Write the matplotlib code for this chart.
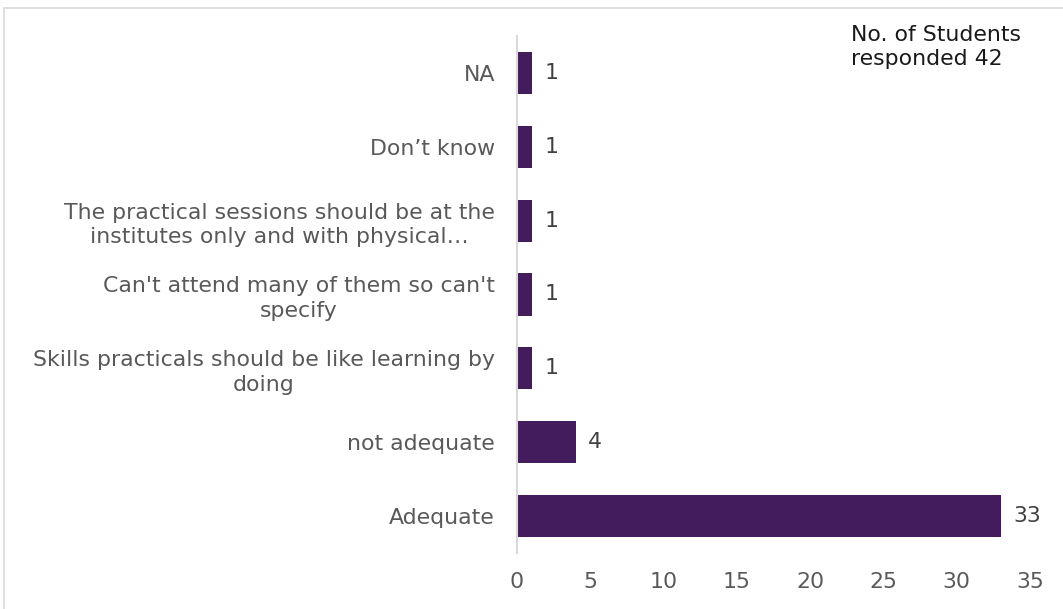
import matplotlib.pyplot as plt
from matplotlib.patches import Rectangle

categories = [
    "Adequate",
    "not adequate",
    "Skills practicals should be like learning by\ndoing",
    "Can't attend many of them so can't\nspecify",
    "The practical sessions should be at the\ninstitutes only and with physical\u2026",
    "Don\u2019t know",
    "NA",
]
counts = [33, 4, 1, 1, 1, 1, 1]
x_ticks = [0, 5, 10, 15, 20, 25, 30, 35]
note = "No. of Students\nresponded 42"

bar_color = "#421c5c"
text_gray = "#595959"
fs = 15.8

plt.rcParams["font.family"] = ["DejaVu Sans"]

fig = plt.figure(figsize=(10.63, 6.09), dpi=100)
fig.patch.set_facecolor("white")

# chart frame
fig.add_artist(Rectangle((4 / 1063, -0.05), 1.2, 1 - 8 / 609 + 0.05,
                         transform=fig.transFigure, fill=False,
                         edgecolor="#d9d9d9", linewidth=1.2))

ax = fig.add_axes([517 / 1063, 1 - 553 / 609, (1030 - 517) / 1063, (553 - 36) / 609])
y = list(range(len(categories)))
ax.barh(y, counts, height=0.57, color=bar_color)
ax.set_xlim(0, 35)
ax.set_ylim(-0.5, len(categories) - 0.5)
ax.set_yticks(y)
ax.set_yticklabels(categories, fontsize=fs, color=text_gray, ha="right",
                   multialignment="center", linespacing=1.3)
ax.set_xticks(x_ticks)
ax.set_xticklabels([str(t) for t in x_ticks], fontsize=fs, color=text_gray)
ax.tick_params(axis="both", length=0)
ax.tick_params(axis="y", pad=16)
ax.tick_params(axis="x", pad=14)
for s in ["top", "right", "bottom"]:
    ax.spines[s].set_visible(False)
ax.spines["left"].set_color("#d9d9d9")
ax.spines["left"].set_linewidth(1.5)

for yi, v in zip(y, counts):
    ax.annotate(str(v), (v, yi), xytext=(9, 0), textcoords="offset points",
                va="center", ha="left", fontsize=fs, color="#404040")

fig.text(851 / 1063, 1 - 47 / 609, note, fontsize=fs, color="#1a1a1a",
         ha="left", va="center", linespacing=1.2)

fig.savefig("out.png", dpi=100, facecolor="white")
